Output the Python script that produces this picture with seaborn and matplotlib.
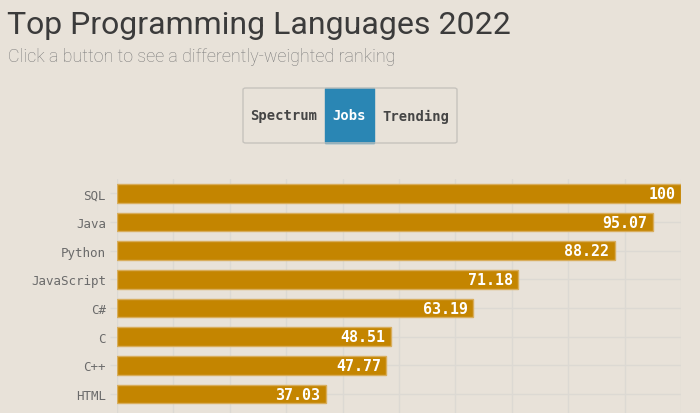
import pandas as pd
import seaborn as sns
import matplotlib.pyplot as plt
from matplotlib.patches import FancyBboxPatch, Rectangle

# data ("Jobs" ranking)
languages = ["SQL", "Java", "Python", "JavaScript", "C#", "C", "C++", "HTML"]
scores = [100, 95.07, 88.22, 71.18, 63.19, 48.51, 47.77, 37.03]
buttons = ["Spectrum", "Jobs", "Trending"]
active_button = "Jobs"

df = pd.DataFrame({"language": languages, "score": scores})

BG = "#e8e2d9"
BAR = "#c48500"
BLUE = "#2a86b4"
GRID = "#dcd9d3"

sns.set_theme(style="whitegrid")
plt.rcParams["figure.facecolor"] = BG
plt.rcParams["axes.facecolor"] = BG
plt.rcParams["font.family"] = ["DejaVu Sans Mono"]

W, H = 700, 414
fig = plt.figure(figsize=(W / 100, H / 100), dpi=100)


def px(x0, y0, x1, y1):
    # pixel box (top-left origin) -> figure fraction rect
    return [x0 / W, 1 - y1 / H, (x1 - x0) / W, (y1 - y0) / H]


# plot area: top at 180px, one category every ~28.7px, runs past bottom edge
step = 28.67
ax = fig.add_axes(px(117, 180, 681, 180 + step * 8.7))

sns.barplot(data=df, x="score", y="language", color=BAR, width=0.66,
            edgecolor="#d8ad5c", linewidth=1, saturation=1, ax=ax)

ax.set_xlim(0, 100)
ax.set_ylim(8.2, -0.5)
ax.set_xticks(range(0, 101, 10))
ax.set_xticklabels([])
ax.tick_params(axis="x", length=0)
ax.tick_params(axis="y", length=5, color=GRID, width=1, pad=3,
               labelsize=9, labelcolor="#6a6a6a", left=True)
ax.grid(True, color=GRID, linewidth=1)
ax.set_axisbelow(True)
ax.set_xlabel("")
ax.set_ylabel("")
for s in ax.spines.values():
    s.set_visible(False)

# value labels inside the bar ends
for i, v in enumerate(scores):
    ax.annotate(f"{v:g}", xy=(v, i), xytext=(-4, 0), textcoords="offset points",
                ha="right", va="center", color="white", fontsize=10.8,
                fontweight="bold", family="DejaVu Sans Mono")

# title + subtitle
fig.text(7 / W, 1 - 34 / H, "Top Programming Languages 2022",
         fontsize=23, color="#3b3b3b", family="Roboto", va="baseline")
fig.text(8 / W, 1 - 62 / H, "Click a button to see a differently-weighted ranking",
         fontsize=12.9, color="#7a7a7a", family="Roboto", fontweight="light",
         va="baseline")

# button group
edges = [243, 325, 374, 457]
top, bot = 89, 144
box = FancyBboxPatch((edges[0] / W, 1 - bot / H),
                     (edges[-1] - edges[0]) / W, (bot - top) / H,
                     boxstyle="round,pad=0,rounding_size=0.004",
                     transform=fig.transFigure, facecolor="none",
                     edgecolor="#c6c3bd", linewidth=1, zorder=3)
fig.patches.append(box)
for k, name in enumerate(buttons):
    x0, x1 = edges[k], edges[k + 1]
    active = name == active_button
    if active:
        fig.patches.append(Rectangle((x0 / W, 1 - bot / H), (x1 - x0) / W,
                                     (bot - top) / H, transform=fig.transFigure,
                                     facecolor=BLUE, edgecolor=BLUE, zorder=2))
    fig.text((x0 + x1) / 2 / W, 1 - 116.5 / H, name, ha="center", va="center",
             fontsize=10, fontweight="bold",
             color="white" if active else "#454545")

fig.savefig("out.png", dpi=100, facecolor=BG)
